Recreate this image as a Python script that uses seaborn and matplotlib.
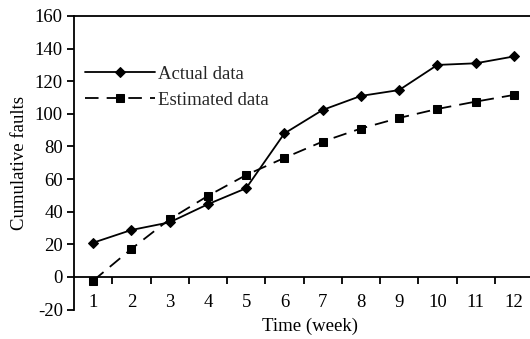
import matplotlib
matplotlib.use("Agg")
import matplotlib.pyplot as plt
import seaborn as sns
import pandas as pd
from matplotlib.ticker import FixedLocator

weeks = [1, 2, 3, 4, 5, 6, 7, 8, 9, 10, 11, 12]
actual = [21, 28.8, 33.5, 44.6, 54.4, 88, 102.4, 111, 114.6, 130, 131, 135.2]
estimated = [-2.3, 17.2, 35.4, 49.7, 62.5, 73, 83, 91, 97.5, 103, 107.5, 111.6]
yticks = [-20, 0, 20, 40, 60, 80, 100, 120, 140, 160]

sns.set_theme(style="white")
plt.rcParams['font.family'] = ['Liberation Serif', 'DejaVu Serif']
plt.rcParams['axes.unicode_minus'] = False

FS = 13.5

fig = plt.figure(figsize=(5.30, 3.39), dpi=100)
ax = fig.add_axes([74/530, 1-309.6/339, 459/530, (309.6-16)/339])

df_a = pd.DataFrame({"week": weeks, "value": actual})
df_e = pd.DataFrame({"week": weeks, "value": estimated})

sns.lineplot(data=df_a, x="week", y="value", ax=ax, color="black", lw=1.3,
             marker="D", markersize=5.5, markeredgecolor="black", label="Actual data")
sns.lineplot(data=df_e, x="week", y="value", ax=ax, color="black", lw=1.3,
             marker="s", markersize=5.5, markeredgecolor="black", label="Estimated data",
             dashes=False, linestyle=(0, (7.5, 4.5)))

ax.set_xlim(0.5, 12.5)
ax.set_ylim(-20, 160)
ax.spines['bottom'].set_position(('data', 0))
ax.spines['right'].set_visible(False)
for s in ['left', 'top', 'bottom']:
    ax.spines[s].set_color('black')
    ax.spines[s].set_linewidth(1.3)

ax.set_xticks(weeks)
ax.set_xticklabels([str(w) for w in weeks])
ax.xaxis.set_minor_locator(FixedLocator([w + 0.5 for w in weeks[:-1]]))
ax.tick_params(axis='x', which='major', length=0, pad=12, labelsize=FS, colors='black')
ax.tick_params(axis='x', which='minor', length=5, width=1.3, direction='out', bottom=True, color='black')
ax.set_yticks(yticks)
ax.tick_params(axis='y', length=5, width=1.3, direction='out', left=True, labelsize=FS, colors='black', pad=3)

ax.set_xlabel("")
ax.set_ylabel("Cumulative faults", fontsize=FS, color='black', labelpad=5)
fig.text(310/530, 1-326/339, "Time (week)", fontsize=FS, color='black', ha='center', va='center')

leg = ax.legend(loc='upper left', bbox_to_anchor=(0.0, 0.87), frameon=False,
                fontsize=FS, handlelength=3.7, handletextpad=0.2, labelspacing=0.5,
                borderaxespad=0.2)

fig.savefig("out.png", dpi=100)
